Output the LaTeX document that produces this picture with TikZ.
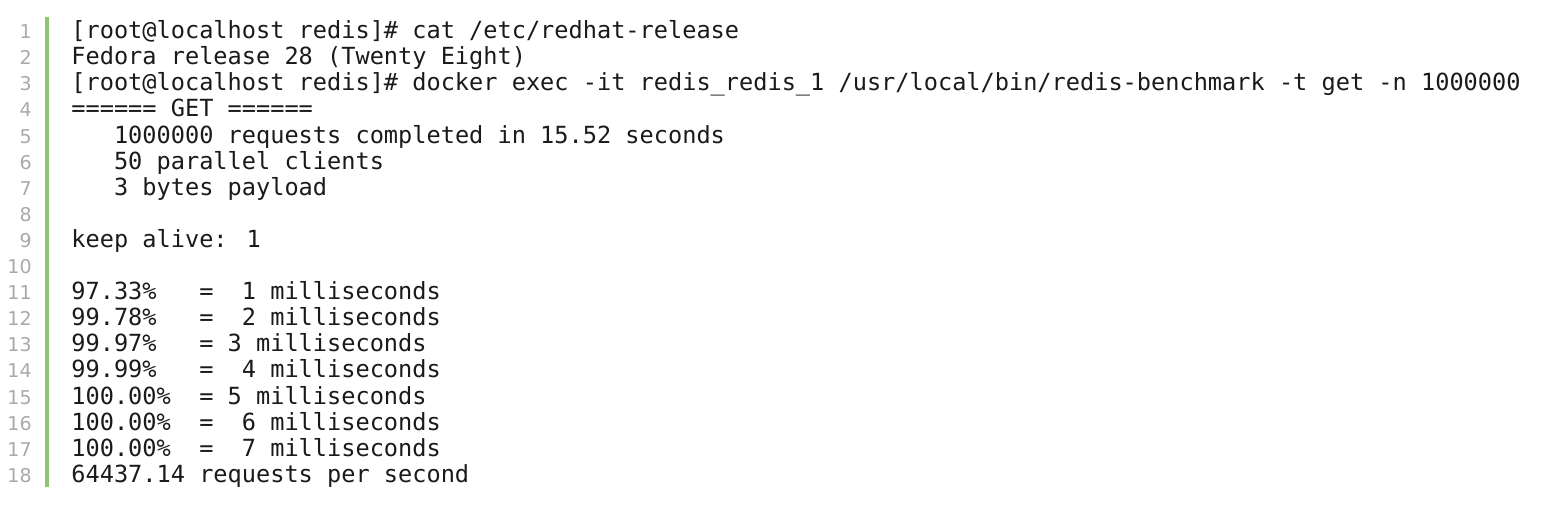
\documentclass[tikz,border=0pt]{standalone}
\usepackage{fontspec}
\newfontfamily\codefont{DejaVu Sans Mono}
\newfontfamily\numfont{DejaVu Sans}
\definecolor{gutter}{HTML}{8DC572}
\definecolor{numgray}{HTML}{A9A9A9}
\definecolor{codeink}{HTML}{1A1A1A}

\begin{document}
\begin{tikzpicture}[x=0.5pt,y=-0.5pt,
  code line/.style={anchor=base west,inner sep=0pt,text=codeink,font=\codefont\fontsize{11.8}{13}\selectfont},
  line num/.style={anchor=base east,inner sep=0pt,text=numgray,font=\numfont\fontsize{9.5}{11}\selectfont}]

  \useasboundingbox (0,0) rectangle (1550,514);
  \fill[gutter] (45,16.7) rectangle (49,487);

  \foreach \i in {1,...,18}
    \node[line num] (n\i) at (32, 38.6+26.1*\i-26.1) {\i};

  \node[code line] (l1)  at (71, 38.6)  {[root@localhost redis]\# cat /etc/redhat-release};
  \node[code line] (l2)  at (71, 64.7)  {Fedora release 28 (Twenty Eight)};
  \node[code line] (l3)  at (71, 90.8)  {[root@localhost redis]\# docker exec -it redis\_redis\_1 /usr/local/bin/redis-benchmark -t get -n 1000000};
  \node[code line] (l4)  at (71, 116.9) {====== GET ======};
  \node[code line] (l5)  at (71, 143.0) {\ \ \ 1000000 requests completed in 15.52 seconds};
  \node[code line] (l6)  at (71, 169.1) {\ \ \ 50 parallel clients};
  \node[code line] (l7)  at (71, 195.2) {\ \ \ 3 bytes payload};
  \node[code line] (l9)  at (71, 247.4) {keep alive: 1};
  \node[code line] (l11) at (71, 299.6) {97.33\%\ \ \ =\ \ 1 milliseconds};
  \node[code line] (l12) at (71, 325.7) {99.78\%\ \ \ =\ \ 2 milliseconds};
  \node[code line] (l13) at (71, 351.8) {99.97\%\ \ \ =\ 3 milliseconds};
  \node[code line] (l14) at (71, 377.9) {99.99\%\ \ \ =\ \ 4 milliseconds};
  \node[code line] (l15) at (71, 404.0) {100.00\%\ \ =\ 5 milliseconds};
  \node[code line] (l16) at (71, 430.1) {100.00\%\ \ =\ \ 6 milliseconds};
  \node[code line] (l17) at (71, 456.2) {100.00\%\ \ =\ \ 7 milliseconds};
  \node[code line] (l18) at (71, 482.3) {64437.14 requests per second};

\end{tikzpicture}
\end{document}
